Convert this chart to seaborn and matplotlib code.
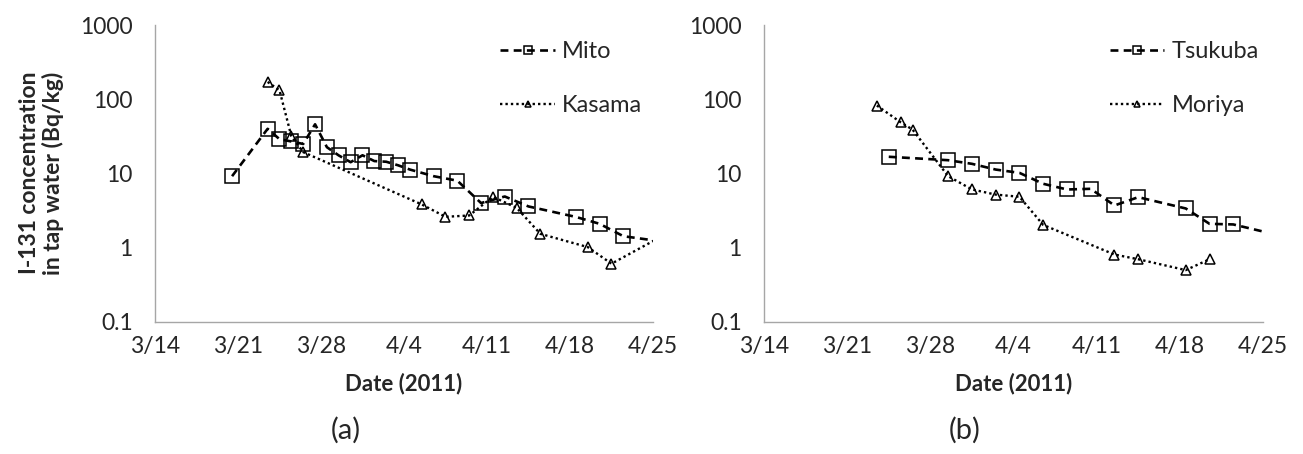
import pandas as pd
import matplotlib
matplotlib.use('Agg')
import matplotlib.pyplot as plt
import matplotlib.dates as mdates
from matplotlib.ticker import FuncFormatter, FixedLocator, NullLocator
import seaborn as sns

# data (Bq/kg); the 4/26 points lie outside the axis and only
# carry the lines to the right edge
mito_dates = ['3/20', '3/23', '3/24', '3/25', '3/26', '3/27', '3/28', '3/29', '3/30', '3/31',
              '4/1', '4/2', '4/3', '4/4', '4/6', '4/8', '4/10', '4/12', '4/14', '4/18',
              '4/20', '4/22', '4/26']
mito_vals = [9.2, 40, 29, 27, 25, 46, 22.6, 17.5, 14.2, 17.6,
             14.7, 14.4, 12.9, 11.3, 9.2, 8.0, 4.0, 4.9, 3.6, 2.6,
             2.1, 1.43, 1.17]

kasama_dates = ['3/23', '3/24', '3/25', '3/26', '4/5', '4/7', '4/9', '4/11', '4/13', '4/15',
                '4/19', '4/21', '4/26']
kasama_vals = [171, 132, 31.8, 19.4, 3.83, 2.61, 2.72, 4.86, 3.45, 1.54,
               1.02, 0.61, 1.66]

tsukuba_dates = ['3/24', '3/29', '3/31', '4/2', '4/4', '4/6', '4/8', '4/10', '4/12', '4/14',
                 '4/18', '4/20', '4/22', '4/26']
tsukuba_vals = [16.8, 15.1, 13.5, 11.3, 10.2, 7.27, 6.09, 6.22, 3.71, 4.8,
                3.38, 2.1, 2.06, 1.45]

moriya_dates = ['3/23', '3/25', '3/26', '3/29', '3/31', '4/2', '4/4', '4/6', '4/12', '4/14',
                '4/18', '4/20']
moriya_vals = [82.3, 49, 39.1, 9.2, 6.1, 5.2, 4.86, 2.03, 0.81, 0.70,
               0.50, 0.70]

xtick_labels = ['3/14', '3/21', '3/28', '4/4', '4/11', '4/18', '4/25']
ytick_vals = [0.1, 1, 10, 100, 1000]


def to_dt(labels):
    # Excel date axis puts each point in the middle of its day
    return pd.to_datetime(['2011/' + s for s in labels], format='%Y/%m/%d') + pd.Timedelta(hours=12)


sns.set_style('white')
plt.rcParams['font.family'] = ['Lato', 'DejaVu Sans']
fontsize = 16
grey = '#a6a6a6'

fig = plt.figure(figsize=(13.03, 4.54), dpi=100)
ax1 = fig.add_axes([155 / 1303, 1 - 322 / 454, 498 / 1303, 297 / 454])
ax2 = fig.add_axes([764 / 1303, 1 - 322 / 454, 499 / 1303, 297 / 454])

panels = [
    (ax1, ('Mito', mito_dates, mito_vals), ('Kasama', kasama_dates, kasama_vals)),
    (ax2, ('Tsukuba', tsukuba_dates, tsukuba_vals), ('Moriya', moriya_dates, moriya_vals)),
]

for ax, sq, tri in panels:
    name, d, v = sq
    df = pd.DataFrame({'date': to_dt(d), 'value': v})
    sns.lineplot(data=df, x='date', y='value', ax=ax, color='black', label=name,
                 linestyle=(0, (3, 2)), linewidth=1.9,
                 marker='s', markersize=10, markerfacecolor='none',
                 markeredgecolor='black', markeredgewidth=1.1)
    name, d, v = tri
    df = pd.DataFrame({'date': to_dt(d), 'value': v})
    sns.lineplot(data=df, x='date', y='value', ax=ax, color='black', label=name,
                 linestyle=(0, (1, 1.3)), linewidth=1.7,
                 marker='^', markersize=6.5, markerfacecolor='none',
                 markeredgecolor='black', markeredgewidth=1.1)

    ax.set_yscale('log')
    ax.set_ylim(0.1, 1000)
    ax.yaxis.set_major_locator(FixedLocator(ytick_vals))
    ax.yaxis.set_minor_locator(NullLocator())
    ax.yaxis.set_major_formatter(FuncFormatter(lambda y, p: f'{y:g}'))

    xt = pd.to_datetime(['2011/' + s for s in xtick_labels], format='%Y/%m/%d')
    ax.set_xlim(xt[0], xt[-1])
    ax.xaxis.set_major_locator(FixedLocator(mdates.date2num(xt)))
    ax.xaxis.set_minor_locator(NullLocator())
    ax.set_xticklabels(xtick_labels)

    ax.tick_params(axis='both', direction='in', length=6, width=1, color=grey,
                   labelsize=16.5)
    ax.tick_params(axis='x', pad=10)
    ax.tick_params(axis='y', pad=16)
    for s in ['top', 'right']:
        ax.spines[s].set_visible(False)
    for s in ['left', 'bottom']:
        ax.spines[s].set_color(grey)
        ax.spines[s].set_linewidth(1)
    ax.set_xlabel('Date (2011)', fontsize=16, fontweight='bold', labelpad=11)
    ax.set_ylabel('')
    ax.legend(loc='upper left', bbox_to_anchor=(0.67, 0.985), frameon=False,
              fontsize=17, labelspacing=1.4, handlelength=2.3,
              handletextpad=0.3, markerscale=0.6, borderpad=0)

fig.text(0.032, 1 - 173 / 454, 'I-131 concentration\nin tap water (Bq/kg)',
         rotation=90, ha='center', va='center', fontsize=16.5, fontweight='bold',
         multialignment='center', linespacing=1.1)
fig.text(346 / 1303, 1 - 430 / 454, '(a)', ha='center', va='center', fontsize=21)
fig.text(965 / 1303, 1 - 430 / 454, '(b)', ha='center', va='center', fontsize=21)

plt.savefig('out.png', dpi=100)
